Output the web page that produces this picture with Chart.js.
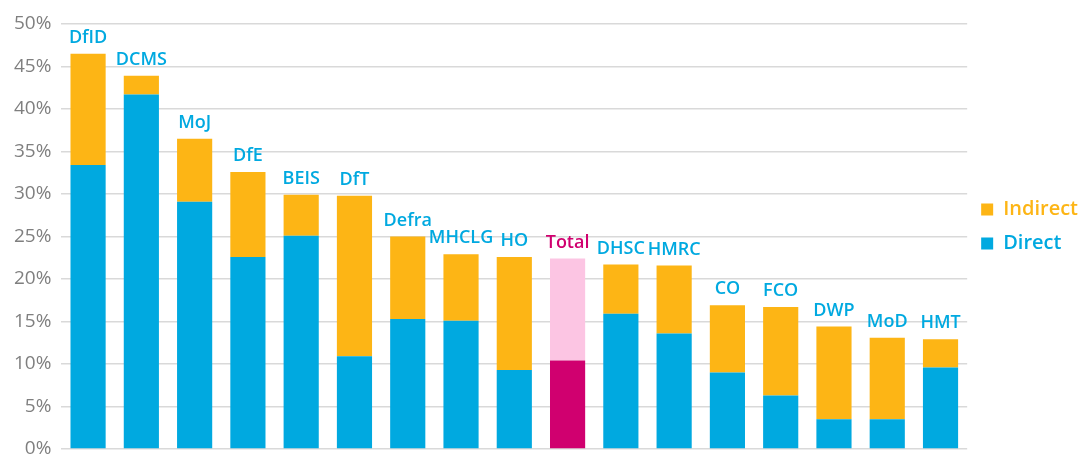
<!DOCTYPE html>
<html>
<head>
<meta charset="utf-8">
<script src="https://cdn.jsdelivr.net/npm/chart.js@4.4.1/dist/chart.umd.min.js"></script>
<style>
  html, body { margin: 0; padding: 0; background: #fff; }
  #wrap { width: 1091px; height: 455px; }
</style>
</head>
<body>
<div id="wrap"><canvas id="chart"></canvas></div>
<script>
// Data (percent of spend)
var departments = ["DfID", "DCMS", "MoJ", "DfE", "BEIS", "DfT", "Defra", "MHCLG", "HO", "Total",
                   "DHSC", "HMRC", "CO", "FCO", "DWP", "MoD", "HMT"];
var direct   = [33.4, 41.7, 29.1, 22.6, 25.1, 10.9, 15.3, 15.1, 9.3, 10.4, 15.9, 13.6, 9.0, 6.3, 3.5, 3.5, 9.6];
var indirect = [13.1, 2.2, 7.4, 10.0, 4.8, 18.9, 9.7, 7.8, 13.3, 12.0, 5.8, 8.0, 7.9, 10.4, 10.9, 9.6, 3.3];
var yTicks = [0, 5, 10, 15, 20, 25, 30, 35, 40, 45, 50];

var BLUE = "#00a9e0", ORANGE = "#fdb515", MAGENTA = "#d0006f", PINK = "#fcc5e3";

var directColors = departments.map(function (d) { return d === "Total" ? MAGENTA : BLUE; });
var indirectColors = departments.map(function (d) { return d === "Total" ? PINK : ORANGE; });

// Names above each stacked bar
var topLabels = {
    id: "topLabels",
    afterLayout: function (chart) {
        // nudge the legend up a bit, the original sits above centre
        if (chart.legend) {
            chart.legend.top -= 10;
            chart.legend.bottom -= 10;
        }
    },
    afterDatasetsDraw: function (chart) {
        var ctx = chart.ctx;
        var meta = chart.getDatasetMeta(1);
        ctx.save();
        ctx.font = "600 18px 'Open Sans'";
        ctx.textAlign = "center";
        ctx.textBaseline = "bottom";
        meta.data.forEach(function (bar, i) {
            ctx.fillStyle = departments[i] === "Total" ? MAGENTA : BLUE;
            ctx.fillText(departments[i], bar.x, bar.y - 7);
        });
        ctx.restore();
    }
};

new Chart(document.getElementById("chart"), {
    type: "bar",
    data: {
        labels: departments,
        datasets: [
            { label: "Direct", data: direct, backgroundColor: directColors, legendColor: BLUE },
            { label: "Indirect", data: indirect, backgroundColor: indirectColors, legendColor: ORANGE }
        ]
    },
    options: {
        responsive: true,
        maintainAspectRatio: false,
        animation: false,
        layout: { padding: { top: 24, right: 3, left: 4, bottom: 6 } },
        datasets: { bar: { categoryPercentage: 1, barPercentage: 0.66 } },
        scales: {
            x: { stacked: true, display: false },
            y: {
                stacked: true,
                min: 0,
                max: 50,
                afterBuildTicks: function (axis) {
                    axis.ticks = yTicks.map(function (v) { return { value: v }; });
                },
                afterFit: function (axis) {
                    axis.paddingTop = 0;
                    axis.paddingBottom = 0;
                },
                border: { display: false },
                grid: { color: "#d9d9d9", lineWidth: 1.5, drawTicks: false },
                ticks: {
                    padding: 10,
                    color: "#7f7f7f",
                    font: { family: "'Open Sans'", size: 19 },
                    callback: function (v) { return v + "%"; }
                }
            }
        },
        plugins: {
            tooltip: { enabled: false },
            legend: {
                position: "right",
                reverse: true,
                labels: {
                    boxWidth: 12,
                    boxHeight: 12,
                    padding: 14,
                    font: { family: "'Open Sans'", size: 20, weight: "600" },
                    generateLabels: function (chart) {
                        return chart.data.datasets.map(function (ds, i) {
                            return {
                                text: ds.label,
                                fillStyle: ds.legendColor,
                                strokeStyle: ds.legendColor,
                                fontColor: ds.legendColor,
                                lineWidth: 0,
                                datasetIndex: i
                            };
                        });
                    }
                }
            }
        }
    },
    plugins: [topLabels]
});
</script>
</body>
</html>
